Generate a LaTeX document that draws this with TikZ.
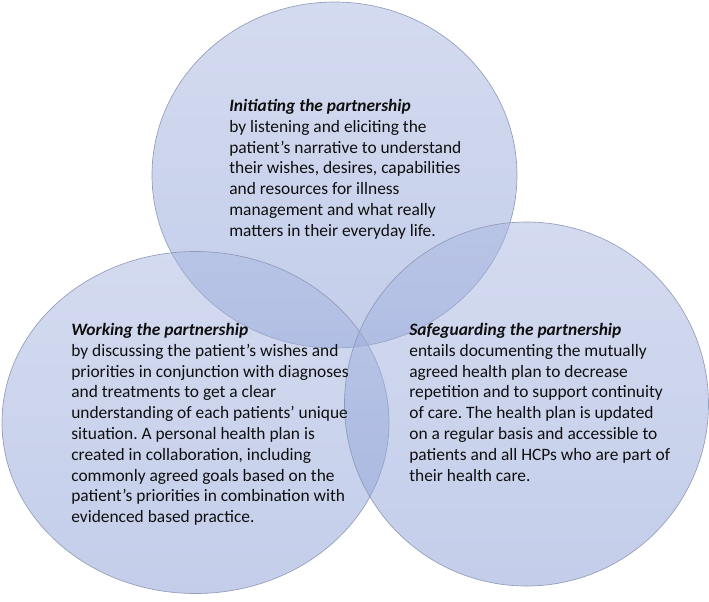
\documentclass[tikz,border=0pt]{standalone}
\usepackage{fontspec}
\setmainfont{Carlito}
\frenchspacing
\definecolor{bubbletop}{RGB}{169,183,225}
\definecolor{bubblebot}{RGB}{137,157,213}
\definecolor{bubbleline}{RGB}{140,150,178}
\definecolor{bodytext}{RGB}{15,15,15}
\tikzset{every picture/.style={line width=0.5pt},
  bubble/.style={top color=bubbletop, bottom color=bubblebot, fill opacity=0.5, draw=bubbleline, draw opacity=0.9},
  bubbletext/.style={anchor=north west, inner sep=0pt, align=left, text=bodytext,
    font=\fontsize{13.05}{15.6}\selectfont}}
\begin{document}
\begin{tikzpicture}[x=0.75pt,y=0.75pt,yscale=-1,xscale=1]
\useasboundingbox (0,0) rectangle (709,601);

%Shape: Ellipse [top]
\draw [bubble] (334.5,175) ellipse [x radius=182.5, y radius=173];
%Shape: Ellipse [left]
\draw [bubble] (195.5,422.5) ellipse [x radius=193.5, y radius=171];
%Shape: Ellipse [right]
\draw [bubble] (526.5,404) ellipse [x radius=182, y radius=182];

\node [bubbletext] (initiating) at (229,99) {\textbf{\textit{Initiating the partnership}}\\
  by listening and eliciting the\\
  patient’s narrative to understand\\
  their wishes, desires, capabilities\\
  and resources for illness\\
  management and what really\\
  matters in their everyday life.};
\node [bubbletext] (working) at (71,323) {\textbf{\textit{Working the partnership}}\\
  by discussing the patient’s wishes and\\
  priorities in conjunction with diagnoses\\
  and treatments to get a clear\\
  understanding of each patients’ unique\\
  situation. A personal health plan is\\
  created in collaboration, including\\
  commonly agreed goals based on the\\
  patient’s priorities in combination with\\
  evidenced based practice.};
\node [bubbletext] (safeguarding) at (409,323) {\textbf{\textit{Safeguarding the partnership}}\\
  entails documenting the mutually\\
  agreed health plan to decrease\\
  repetition and to support continuity\\
  of care. The health plan is updated\\
  on a regular basis and accessible to\\
  patients and all HCPs who are part of\\
  their health care.};

\end{tikzpicture}
\end{document}
